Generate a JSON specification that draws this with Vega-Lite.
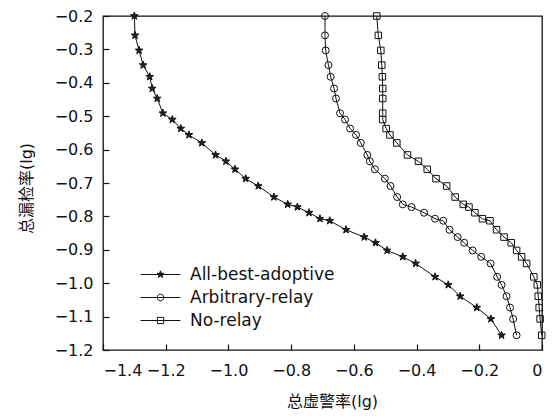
{
  "$schema": "https://vega.github.io/schema/vega-lite/v6.json",
  "width": 439,
  "height": 334,
  "autosize": {"type": "none"},
  "padding": {"left": 103, "top": 16, "right": 17, "bottom": 66},
  "background": "white",
  "config": {
    "font": "DejaVu Sans",
    "view": {"stroke": "#111", "strokeWidth": 1.3},
    "axis": {
      "grid": false,
      "zindex": 1,
      "domain": false,
      "offset": -6,
      "ticks": true,
      "tickColor": "#111",
      "tickOpacity": 1,
      "tickSize": 6,
      "tickWidth": 1.2,
      "labelFont": "DejaVu Sans",
      "labelFontSize": 16,
      "labelColor": "#111",
      "titleFont": "DejaVu Sans, Noto Sans CJK SC",
      "titleFontSize": 16,
      "titleFontWeight": "normal",
      "titleColor": "#111"
    }
  },
  "data": {
    "values": [
      {"series": "All-best-adoptive", "x": -1.300, "y": -0.200},
      {"series": "All-best-adoptive", "x": -1.298, "y": -0.258},
      {"series": "All-best-adoptive", "x": -1.285, "y": -0.303},
      {"series": "All-best-adoptive", "x": -1.272, "y": -0.347},
      {"series": "All-best-adoptive", "x": -1.251, "y": -0.382},
      {"series": "All-best-adoptive", "x": -1.243, "y": -0.417},
      {"series": "All-best-adoptive", "x": -1.227, "y": -0.447},
      {"series": "All-best-adoptive", "x": -1.209, "y": -0.491},
      {"series": "All-best-adoptive", "x": -1.179, "y": -0.510},
      {"series": "All-best-adoptive", "x": -1.152, "y": -0.537},
      {"series": "All-best-adoptive", "x": -1.126, "y": -0.556},
      {"series": "All-best-adoptive", "x": -1.085, "y": -0.580},
      {"series": "All-best-adoptive", "x": -1.041, "y": -0.616},
      {"series": "All-best-adoptive", "x": -1.008, "y": -0.635},
      {"series": "All-best-adoptive", "x": -0.979, "y": -0.659},
      {"series": "All-best-adoptive", "x": -0.945, "y": -0.687},
      {"series": "All-best-adoptive", "x": -0.905, "y": -0.709},
      {"series": "All-best-adoptive", "x": -0.855, "y": -0.742},
      {"series": "All-best-adoptive", "x": -0.811, "y": -0.764},
      {"series": "All-best-adoptive", "x": -0.780, "y": -0.772},
      {"series": "All-best-adoptive", "x": -0.743, "y": -0.789},
      {"series": "All-best-adoptive", "x": -0.708, "y": -0.807},
      {"series": "All-best-adoptive", "x": -0.677, "y": -0.813},
      {"series": "All-best-adoptive", "x": -0.625, "y": -0.840},
      {"series": "All-best-adoptive", "x": -0.567, "y": -0.862},
      {"series": "All-best-adoptive", "x": -0.531, "y": -0.879},
      {"series": "All-best-adoptive", "x": -0.494, "y": -0.902},
      {"series": "All-best-adoptive", "x": -0.444, "y": -0.921},
      {"series": "All-best-adoptive", "x": -0.403, "y": -0.941},
      {"series": "All-best-adoptive", "x": -0.341, "y": -0.981},
      {"series": "All-best-adoptive", "x": -0.299, "y": -1.005},
      {"series": "All-best-adoptive", "x": -0.261, "y": -1.039},
      {"series": "All-best-adoptive", "x": -0.208, "y": -1.073},
      {"series": "All-best-adoptive", "x": -0.163, "y": -1.107},
      {"series": "All-best-adoptive", "x": -0.129, "y": -1.156},
      {"series": "Arbitrary-relay", "x": -0.692, "y": -0.200},
      {"series": "Arbitrary-relay", "x": -0.692, "y": -0.258},
      {"series": "Arbitrary-relay", "x": -0.690, "y": -0.303},
      {"series": "Arbitrary-relay", "x": -0.681, "y": -0.347},
      {"series": "Arbitrary-relay", "x": -0.674, "y": -0.382},
      {"series": "Arbitrary-relay", "x": -0.663, "y": -0.417},
      {"series": "Arbitrary-relay", "x": -0.657, "y": -0.447},
      {"series": "Arbitrary-relay", "x": -0.644, "y": -0.491},
      {"series": "Arbitrary-relay", "x": -0.628, "y": -0.510},
      {"series": "Arbitrary-relay", "x": -0.612, "y": -0.537},
      {"series": "Arbitrary-relay", "x": -0.593, "y": -0.556},
      {"series": "Arbitrary-relay", "x": -0.578, "y": -0.580},
      {"series": "Arbitrary-relay", "x": -0.557, "y": -0.616},
      {"series": "Arbitrary-relay", "x": -0.549, "y": -0.635},
      {"series": "Arbitrary-relay", "x": -0.533, "y": -0.659},
      {"series": "Arbitrary-relay", "x": -0.501, "y": -0.687},
      {"series": "Arbitrary-relay", "x": -0.483, "y": -0.709},
      {"series": "Arbitrary-relay", "x": -0.462, "y": -0.742},
      {"series": "Arbitrary-relay", "x": -0.444, "y": -0.764},
      {"series": "Arbitrary-relay", "x": -0.416, "y": -0.772},
      {"series": "Arbitrary-relay", "x": -0.376, "y": -0.789},
      {"series": "Arbitrary-relay", "x": -0.341, "y": -0.807},
      {"series": "Arbitrary-relay", "x": -0.315, "y": -0.813},
      {"series": "Arbitrary-relay", "x": -0.295, "y": -0.840},
      {"series": "Arbitrary-relay", "x": -0.269, "y": -0.862},
      {"series": "Arbitrary-relay", "x": -0.248, "y": -0.879},
      {"series": "Arbitrary-relay", "x": -0.221, "y": -0.902},
      {"series": "Arbitrary-relay", "x": -0.194, "y": -0.921},
      {"series": "Arbitrary-relay", "x": -0.164, "y": -0.941},
      {"series": "Arbitrary-relay", "x": -0.143, "y": -0.981},
      {"series": "Arbitrary-relay", "x": -0.129, "y": -1.005},
      {"series": "Arbitrary-relay", "x": -0.113, "y": -1.039},
      {"series": "Arbitrary-relay", "x": -0.102, "y": -1.073},
      {"series": "Arbitrary-relay", "x": -0.092, "y": -1.107},
      {"series": "Arbitrary-relay", "x": -0.081, "y": -1.156},
      {"series": "No-relay", "x": -0.527, "y": -0.200},
      {"series": "No-relay", "x": -0.522, "y": -0.258},
      {"series": "No-relay", "x": -0.514, "y": -0.303},
      {"series": "No-relay", "x": -0.511, "y": -0.347},
      {"series": "No-relay", "x": -0.509, "y": -0.382},
      {"series": "No-relay", "x": -0.508, "y": -0.417},
      {"series": "No-relay", "x": -0.508, "y": -0.447},
      {"series": "No-relay", "x": -0.508, "y": -0.491},
      {"series": "No-relay", "x": -0.508, "y": -0.510},
      {"series": "No-relay", "x": -0.497, "y": -0.537},
      {"series": "No-relay", "x": -0.485, "y": -0.556},
      {"series": "No-relay", "x": -0.463, "y": -0.580},
      {"series": "No-relay", "x": -0.429, "y": -0.616},
      {"series": "No-relay", "x": -0.394, "y": -0.635},
      {"series": "No-relay", "x": -0.366, "y": -0.659},
      {"series": "No-relay", "x": -0.338, "y": -0.687},
      {"series": "No-relay", "x": -0.304, "y": -0.709},
      {"series": "No-relay", "x": -0.277, "y": -0.742},
      {"series": "No-relay", "x": -0.251, "y": -0.764},
      {"series": "No-relay", "x": -0.233, "y": -0.772},
      {"series": "No-relay", "x": -0.214, "y": -0.789},
      {"series": "No-relay", "x": -0.190, "y": -0.807},
      {"series": "No-relay", "x": -0.166, "y": -0.813},
      {"series": "No-relay", "x": -0.145, "y": -0.840},
      {"series": "No-relay", "x": -0.121, "y": -0.862},
      {"series": "No-relay", "x": -0.098, "y": -0.879},
      {"series": "No-relay", "x": -0.081, "y": -0.902},
      {"series": "No-relay", "x": -0.065, "y": -0.921},
      {"series": "No-relay", "x": -0.049, "y": -0.941},
      {"series": "No-relay", "x": -0.026, "y": -0.981},
      {"series": "No-relay", "x": -0.015, "y": -1.005},
      {"series": "No-relay", "x": -0.012, "y": -1.039},
      {"series": "No-relay", "x": -0.009, "y": -1.073},
      {"series": "No-relay", "x": -0.006, "y": -1.107},
      {"series": "No-relay", "x": -0.001, "y": -1.156}
    ]
  },
  "encoding": {
    "x": {
      "field": "x",
      "type": "quantitative",
      "scale": {"domain": [-1.4, 0], "nice": false, "zero": false},
      "axis": {
        "title": "总虚警率(lg)",
        "titleColor": "#111",
        "titleX": 229,
        "values": [-1.4, -1.2, -1.0, -0.8, -0.6, -0.4, -0.2, 0],
        "labelExpr": "datum.value == 0 ? '0' : format(datum.value, '.1f')",
        "labelPadding": 12,
        "titlePadding": 15
      }
    },
    "y": {
      "field": "y",
      "type": "quantitative",
      "scale": {"domain": [-1.2, -0.2], "nice": false, "zero": false},
      "axis": {
        "title": "总漏检率(lg)",
        "titleColor": "#111",
        "titleY": 172,
        "values": [-1.2, -1.1, -1.0, -0.9, -0.8, -0.7, -0.6, -0.5, -0.4, -0.3, -0.2],
        "format": ".1f",
        "labelPadding": 10,
        "titlePadding": 20
      }
    }
  },
  "resolve": {"scale": {"shape": "independent"}, "legend": {"shape": "independent"}},
  "layer": [
    {
      "mark": {"type": "line", "color": "#111", "strokeWidth": 1},
      "encoding": {
        "detail": {"field": "series"},
        "order": {"field": "y", "sort": "descending"}
      }
    },
    {
      "mark": {"type": "point", "filled": false, "stroke": "#111", "strokeWidth": 1, "size": 49, "opacity": 1},
      "encoding": {
        "shape": {
          "field": "series",
          "type": "nominal",
          "scale": {
            "domain": ["All-best-adoptive", "Arbitrary-relay", "No-relay"],
            "range": [
              "M0,-1.15L0.27,-0.373L1.094,-0.355L0.437,0.143L0.676,0.93L0,0.46L-0.676,0.93L-0.437,0.143L-1.094,-0.355L-0.27,-0.373Z",
              "circle",
              "M-0.93,-0.93L0.93,-0.93L0.93,0.93L-0.93,0.93Z"
            ]
          },
          "legend": null
        },
        "fill": {
          "field": "series",
          "type": "nominal",
          "scale": {
            "domain": ["All-best-adoptive", "Arbitrary-relay", "No-relay"],
            "range": ["#222", "transparent", "transparent"]
          },
          "legend": null
        }
      }
    },
    {
      "transform": [{"filter": "datum.x > 5"}],
      "mark": {"type": "point", "filled": false, "stroke": "#111", "strokeWidth": 1, "size": 49, "opacity": 1},
      "encoding": {
        "shape": {
          "field": "series",
          "type": "nominal",
          "scale": {
            "domain": ["All-best-adoptive", "Arbitrary-relay", "No-relay"],
            "range": [
              "M-5.7,0L5.7,0M0,-1.05L0.246,-0.34L1.0,-0.324L0.399,0.13L0.617,0.85L0,0.42L-0.617,0.85L-0.399,0.13L-1.0,-0.324L-0.246,-0.34ZM0,-0.6L0.14,-0.19L0.57,-0.185L0.228,0.074L0.35,0.486L0,0.24L-0.35,0.486L-0.228,0.074L-0.57,-0.185L-0.14,-0.19ZM0,-0.25L0.25,0L0,0.25L-0.25,0Z",
              "M-5.7,0L5.7,0M0.95,0A0.95,0.95,0,1,1,-0.95,0A0.95,0.95,0,1,1,0.95,0",
              "M-5.7,0L5.7,0M-0.9,-0.9L0.9,-0.9L0.9,0.9L-0.9,0.9Z"
            ]
          },
          "legend": {
            "title": null,
            "orient": "none",
            "legendX": 49,
            "legendY": 250,
            "padding": 0,
            "symbolSize": 49,
            "symbolStrokeColor": "#111",
            "symbolStrokeWidth": 1,
            "symbolFillColor": "transparent",
            "labelOffset": 21,
            "labelFontSize": 17,
            "labelFont": "DejaVu Sans",
            "labelColor": "#111",
            "rowPadding": 5
          }
        }
      }
    }
  ]
}
